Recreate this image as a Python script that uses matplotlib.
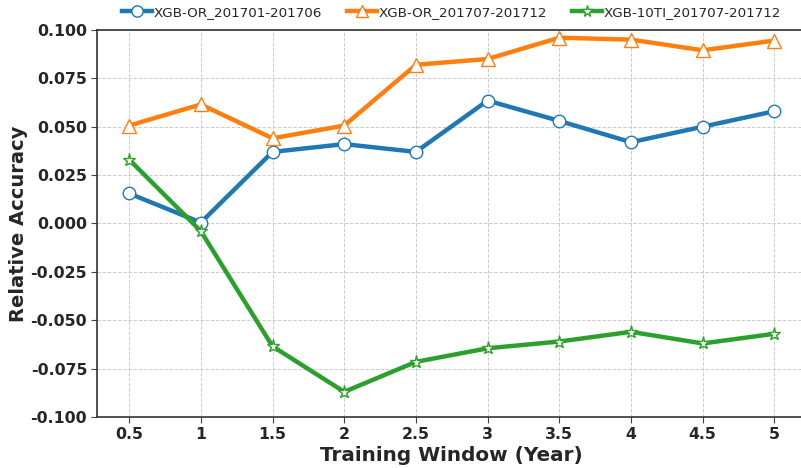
import matplotlib
matplotlib.use("Agg")
import matplotlib.pyplot as plt

x = [0.5, 1, 1.5, 2, 2.5, 3, 3.5, 4, 4.5, 5]
xtick_labels = ["0.5", "1", "1.5", "2", "2.5", "3", "3.5", "4", "4.5", "5"]
blue = [0.0155, 0.0005, 0.037, 0.041, 0.037, 0.0635, 0.053, 0.042, 0.050, 0.058]
orange = [0.0506, 0.0615, 0.044, 0.0506, 0.082, 0.085, 0.096, 0.095, 0.0895, 0.0945]
green = [0.033, -0.004, -0.0635, -0.087, -0.0715, -0.0645, -0.061, -0.056, -0.062, -0.057]
labels = ["XGB-OR_201701-201706", "XGB-OR_201707-201712", "XGB-10TI_201707-201712"]
yticks = [-0.1, -0.075, -0.05, -0.025, 0.0, 0.025, 0.05, 0.075, 0.1]

plt.rcParams['font.family'] = ['DejaVu Sans']
fig = plt.figure(figsize=(8.01, 4.68), dpi=100)
ax = fig.add_axes([0.121, 0.109, 0.886, 0.827])

ax.plot(x, blue, color='#1f77b4', lw=3.2, marker='o', ms=9, mfc='white', mec='#1f77b4', mew=1.0, label=labels[0], zorder=3)
ax.plot(x, orange, color='#ff7f0e', lw=3.2, marker='^', ms=10, mfc='white', mec='#ff7f0e', mew=1.0, label=labels[1], zorder=3)
ax.plot(x, green, color='#2ca02c', lw=3.2, marker='*', ms=9.5, mfc='white', mec='#2ca02c', mew=1.0, label=labels[2], zorder=3)

ax.set_xlim(0.275, 5.225)
ax.set_ylim(-0.1, 0.1)
ax.set_xticks(x)
ax.set_xticklabels(xtick_labels)
ax.set_yticks(yticks)
ax.set_yticklabels([f"{v:.3f}" for v in yticks])
ax.grid(True, linestyle='--', color='#cccccc', lw=0.7)
ax.set_axisbelow(True)
for lab in ax.get_xticklabels() + ax.get_yticklabels():
    lab.set_fontweight('bold')
    lab.set_fontsize(11.3)
    lab.set_color('#262626')
ax.tick_params(axis='both', length=4, width=0.8, color='#444444', pad=3)
for s in ax.spines.values():
    s.set_color('#333333')
    s.set_linewidth(1.2)
ax.set_xlabel("Training Window (Year)", fontsize=14.4, fontweight='bold', color='#262626', labelpad=3)
ax.set_ylabel("Relative Accuracy", fontsize=14, fontweight='bold', color='#262626', labelpad=2)

leg = ax.legend(loc='lower center', bbox_to_anchor=(0.5, 1.015), ncol=3, frameon=False,
                fontsize=9.7, handlelength=2.2, handletextpad=0.15, columnspacing=1.85,
                borderaxespad=0, markerscale=0.9)
for t in leg.get_texts():
    t.set_color('#262626')

fig.savefig("out.png", dpi=100)
